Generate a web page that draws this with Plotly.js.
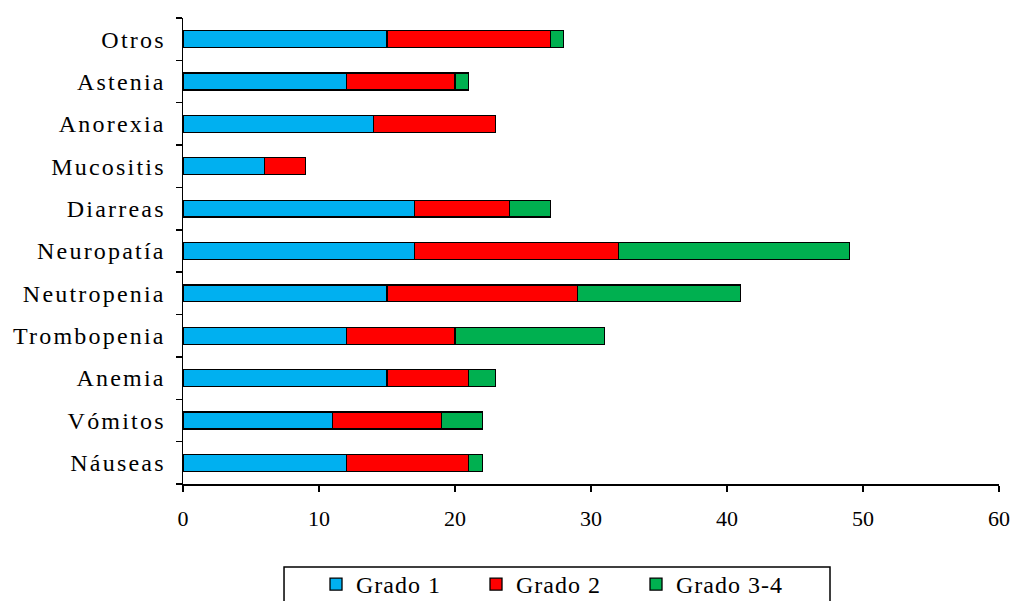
<!DOCTYPE html>
<html>
<head>
<meta charset="utf-8">
<script src="https://cdn.plot.ly/plotly-3.0.1.min.js"></script>
<style>
html,body{margin:0;padding:0;background:#fff;}
#chart{width:1014px;height:601px;}
#chart .ytick text{letter-spacing:2.2px;}
#chart .legendtext{letter-spacing:1px;}
</style>
</head>
<body>
<div id="chart"></div>
<script>
const categories = ["Náuseas","Vómitos","Anemia","Trombopenia","Neutropenia","Neuropatía","Diarreas","Mucositis","Anorexia","Astenia","Otros"];
const grado1 = [12,11,15,12,15,17,17,6,14,12,15];
const grado2 = [9,8,6,8,14,15,7,3,9,8,12];
const grado34 = [1,3,2,11,12,17,3,0,0,1,1];
const seriesNames = ["Grado 1","Grado 2","Grado 3-4"];
const seriesColors = ["#00b0f0","#ff0000","#00b050"];
const xTicks = [0,10,20,30,40,50,60];

const fam = "Liberation Serif, Times New Roman, serif";
const yFont = {family: fam, size: 24, color: "#000"};
const xFont = {family: fam, size: 22, color: "#000"};
const legFont = {family: fam, size: 24, color: "#000"};
const data = [grado1, grado2, grado34].map((vals, i) => ({
  type: "bar",
  orientation: "h",
  name: seriesNames[i],
  y: categories,
  x: vals,
  marker: {color: seriesColors[i], line: {color: "#000", width: 1.3}},
  hoverinfo: "x+y+name"
}));

const layout = {
  width: 1014, height: 601,
  margin: {l: 183, r: 15, t: 18, b: 117, autoexpand: false},
  paper_bgcolor: "#fff", plot_bgcolor: "#fff",
  barmode: "stack",
  bargap: 0.6,
  font: xFont,
  showlegend: true,
  legend: {
    orientation: "h", x: 0.1630, xanchor: "left", y: -0.1674, yanchor: "top",
    borderwidth: 0, bgcolor: "rgba(0,0,0,0)", font: legFont,
    traceorder: "normal", itemwidth: 30, entrywidth: 115
  },
  shapes: [{
    type: "rect", xref: "paper", yref: "paper",
    x0: 0.1238, x1: 0.7929, y0: -0.1781, y1: -0.30,
    line: {color: "#000", width: 1.5}, fillcolor: "rgba(0,0,0,0)", layer: "below"
  }],
  xaxis: {
    range: [0, 60], tickvals: xTicks, ticktext: xTicks.map(String),
    showgrid: false, zeroline: false, showline: true, linecolor: "#000", linewidth: 1.5,
    ticks: "outside", ticklen: 6, tickcolor: "#000", tickwidth: 1.5,
    tickfont: xFont, ticklabelstandoff: 8, fixedrange: true
  },
  yaxis: {
    type: "category", categoryorder: "array", categoryarray: categories,
    showgrid: false, zeroline: false, showline: true, linecolor: "#000", linewidth: 1.5,
    ticks: "outside", tickson: "boundaries", ticklen: 6, tickcolor: "#000", tickwidth: 1.5,
    tickfont: yFont, ticklabelstandoff: 11, fixedrange: true
  }
};

Plotly.newPlot("chart", data, layout, {displayModeBar: false, staticPlot: true});
</script>
</body>
</html>
